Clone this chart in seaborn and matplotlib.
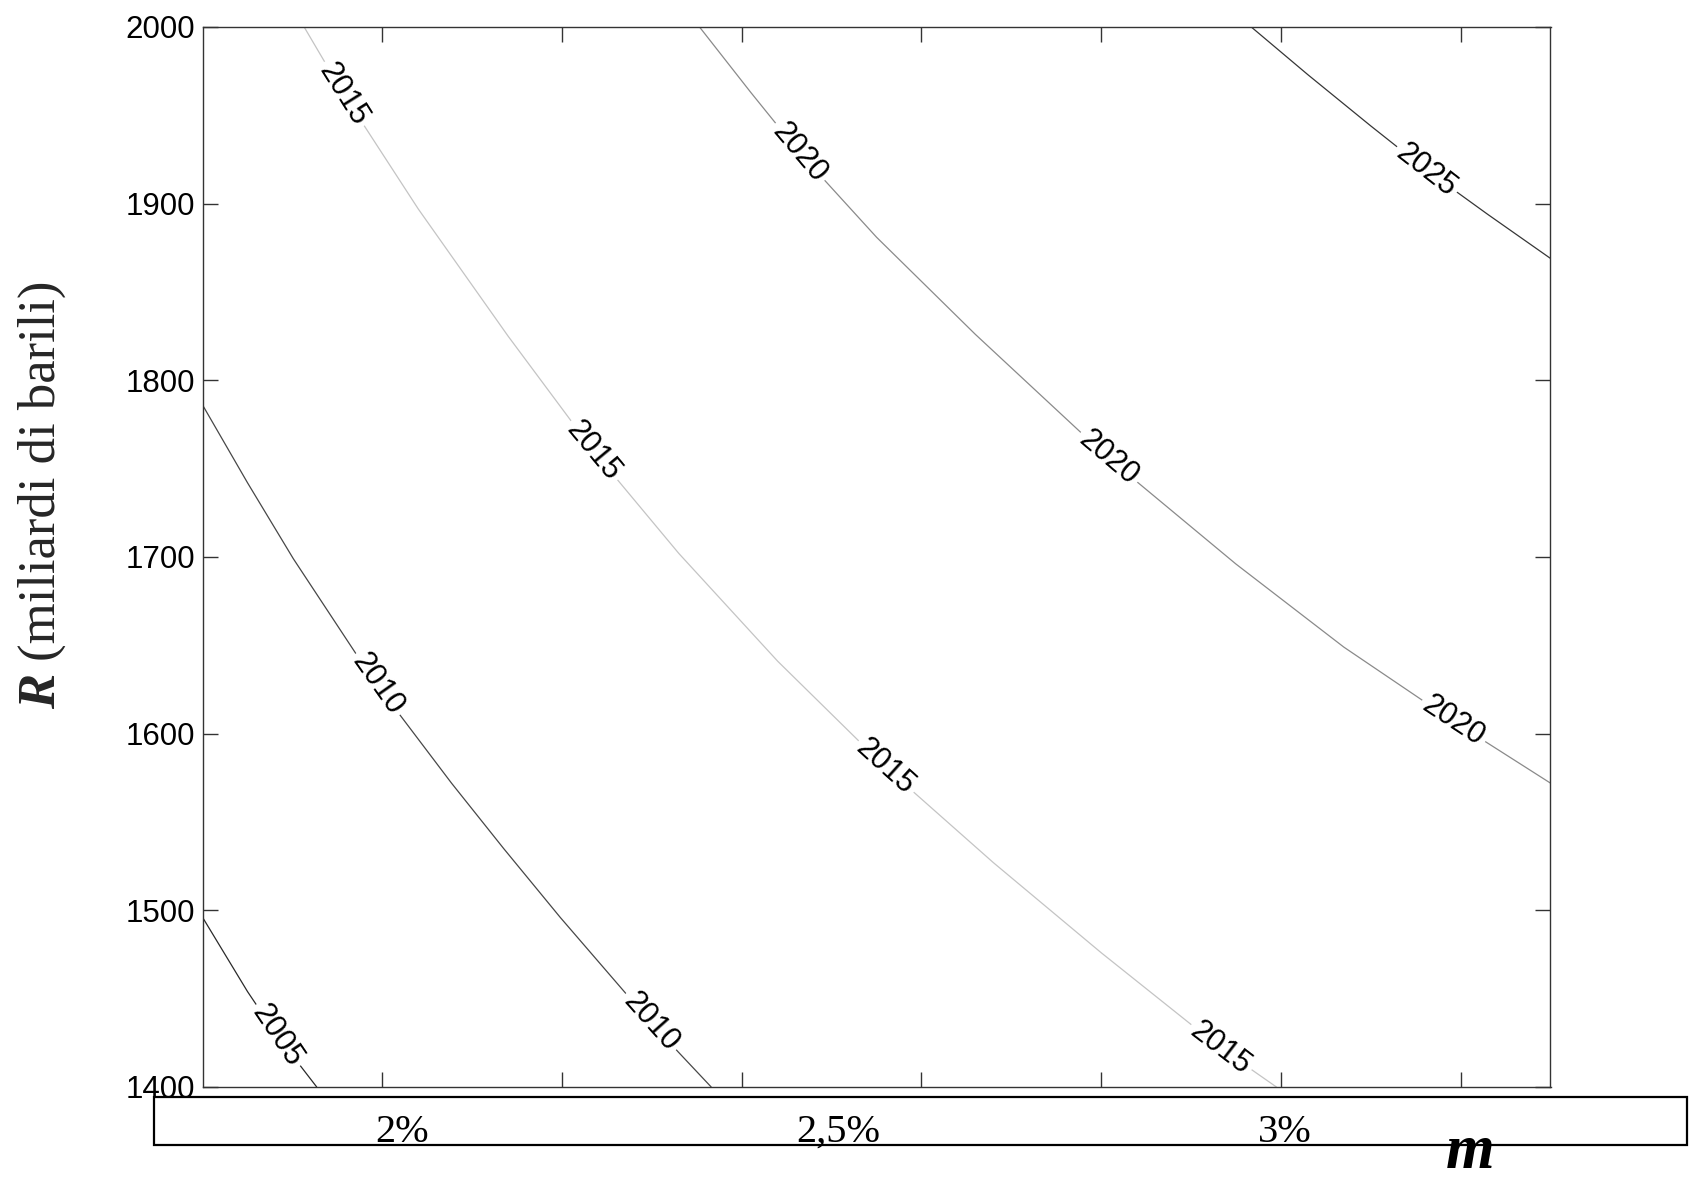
import numpy as np
import pandas as pd
import matplotlib
matplotlib.use("Agg")
import matplotlib.pyplot as plt
import seaborn as sns
from matplotlib.patches import Rectangle

# ---------------- data ----------------
levels = [2005, 2010, 2015, 2020, 2025]

m_2005 = [1.800, 1.850, 1.883, 1.927]
R_2005 = [1496, 1454, 1429, 1400]

m_2010 = [1.800, 1.850, 1.901, 1.971, 2.019, 2.077, 2.135, 2.198, 2.276, 2.329, 2.366]
R_2010 = [1786, 1742, 1699, 1645, 1611, 1572, 1535, 1496, 1450, 1420, 1400]

m_2015 = [1.913, 1.957, 2.040, 2.140, 2.235, 2.330, 2.440, 2.560, 2.680, 2.800,
          2.933, 2.995]
R_2015 = [2000, 1962, 1897, 1825, 1760, 1702, 1641, 1581, 1527, 1476,
          1422, 1400]

m_2020 = [2.353, 2.410, 2.464, 2.550, 2.660, 2.808, 2.950, 3.070, 3.192, 3.300]
R_2020 = [2000, 1963, 1929, 1881, 1826, 1756, 1696, 1649, 1607, 1572]

m_2025 = [2.967, 3.030, 3.100, 3.162, 3.230, 3.300]
R_2025 = [2000, 1973, 1944, 1919, 1894, 1869]

# contour label anchor points (m, R)
labels_2005 = [(1.883, 1429)]
labels_2010 = [(1.995, 1628), (2.299, 1437)]
labels_2015 = [(1.957, 1962), (2.235, 1760), (2.560, 1581), (2.933, 1422)]
labels_2020 = [(2.464, 1929), (2.808, 1756), (3.192, 1607)]
labels_2025 = [(3.162, 1919)]

y_ticks = [1400, 1500, 1600, 1700, 1800, 1900, 2000]
x_ticks = [2.0, 2.2, 2.4, 2.6, 2.8, 3.0, 3.2]
box_labels = ["2%", "2,5%", "3%"]

line_colors = {2005: "#2a2a2a", 2010: "#474747", 2015: "#c4c4c4",
               2020: "#8a8a8a", 2025: "#363636"}

lines = {2005: (m_2005, R_2005), 2010: (m_2010, R_2010), 2015: (m_2015, R_2015),
         2020: (m_2020, R_2020), 2025: (m_2025, R_2025)}
label_pts = {2005: labels_2005, 2010: labels_2010, 2015: labels_2015,
             2020: labels_2020, 2025: labels_2025}

# ---------------- figure ----------------
sns.set_style("white")
plt.rcParams["font.family"] = ["Liberation Sans", "DejaVu Sans"]
serif = ["Liberation Serif", "DejaVu Serif"]

W, H = 1690, 1181
fig = plt.figure(figsize=(W / 100, H / 100), dpi=100)
ax_l, ax_r, ax_t, ax_b = 202.6, 1550.5, 27.0, 1087.0
ax = fig.add_axes([ax_l / W, (H - ax_b) / H, (ax_r - ax_l) / W, (ax_b - ax_t) / H])

df = pd.concat([pd.DataFrame({"m": lines[lv][0], "R": lines[lv][1], "level": lv})
                for lv in levels], ignore_index=True)
sns.lineplot(data=df, x="m", y="R", hue="level", palette=line_colors,
             sort=False, estimator=None, legend=False, ax=ax, linewidth=0.9)

ax.set_xlim(1.8, 3.3)
ax.set_ylim(1400, 2000)
ax.set_xticks(x_ticks)
ax.set_xticklabels([])
ax.set_yticks(y_ticks)
ax.set_yticklabels([str(v) for v in y_ticks])
ax.set_xlabel("")
ax.set_ylabel("")
ax.grid(False)
ax.tick_params(direction="in", length=11, width=1.0, color="#333333",
               top=True, right=True, bottom=True, left=True,
               labelsize=22.5, pad=5.5, labelcolor="black")
for s in ax.spines.values():
    s.set_color("#333333")
    s.set_linewidth(1.0)

fig.canvas.draw()

def angle_at(px, py, xs, ys):
    pts = ax.transData.transform(np.column_stack([xs, ys]))
    p = ax.transData.transform((px, py))
    best, bi = None, 0
    for i in range(len(pts) - 1):
        mid = (pts[i] + pts[i + 1]) / 2
        d = np.hypot(*(mid - p))
        if best is None or d < best:
            best, bi = d, i
    lo, hi = max(bi - 1, 0), min(bi + 2, len(pts) - 1)
    dx, dy = pts[hi] - pts[lo]
    return np.degrees(np.arctan2(dy, dx))

for lv in levels:
    xs, ys = lines[lv]
    for (px, py) in label_pts[lv]:
        ang = angle_at(px, py, xs, ys)
        ax.text(px, py, str(lv), rotation=ang, rotation_mode="anchor",
                ha="center", va="center", fontsize=22, color="black", zorder=5,
                bbox=dict(boxstyle="square,pad=0.12", fc="white", ec="none"))

# ---------------- x-axis annotation box ----------------
bx0, by0, bx1, by1 = 154, 1097, 1687, 1145
fig.add_artist(Rectangle((bx0 / W, (H - by1) / H), (bx1 - bx0) / W, (by1 - by0) / H,
                         transform=fig.transFigure, fill=False, ec="black", lw=1.6))
box_label_x = [402, 838, 1285]
for lab, xp in zip(box_labels, box_label_x):
    fig.text(xp / W, (H - 1142) / H, lab, fontsize=29, family=serif,
             ha="center", va="baseline", color="black")

fig.text(1470 / W, (H - 1168) / H, "m", fontsize=45, family=serif,
         weight="bold", style="italic", ha="center", va="baseline", color="black")

# ---------------- y label: bold italic R + regular text ----------------
ylab_size = 38
tR = fig.text(0, 0, "R", fontsize=ylab_size, family=serif, weight="bold",
              style="italic", rotation=90, rotation_mode="anchor",
              ha="left", va="baseline")
tRest = fig.text(0, 0, "(miliardi di barili)", fontsize=ylab_size, family=serif,
                 rotation=90, rotation_mode="anchor", ha="left", va="baseline")
fig.canvas.draw()
rend = fig.canvas.get_renderer()
hR = tR.get_window_extent(rend).height
hRest = tRest.get_window_extent(rend).height
gap = 0.25 * ylab_size * 100 / 72
total = hR + gap + hRest
cy = H - 495
base_x = 55
start = cy - total / 2
tR.set_position((base_x / W, start / H))
tRest.set_position((base_x / W, (start + hR + gap) / H))

fig.savefig("out.png", dpi=100)
